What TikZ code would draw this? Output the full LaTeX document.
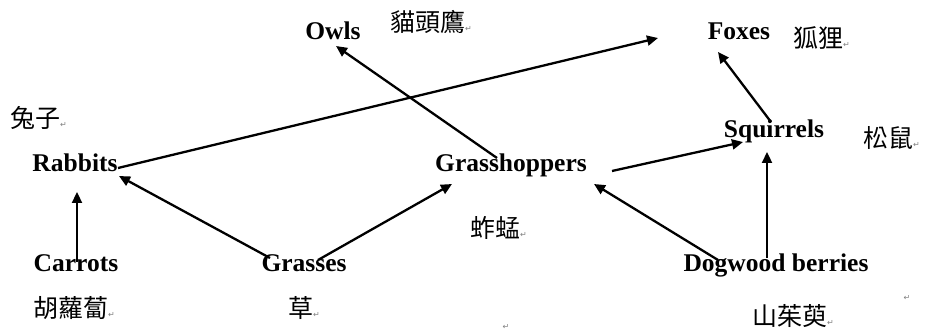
\documentclass[tikz,border=0pt]{standalone}
\usepackage{fontspec}
\setmainfont{Liberation Serif}
\newfontfamily\cjk{Noto Sans CJK TC}
\newfontfamily\markfont{DejaVu Sans}
\usetikzlibrary{arrows.meta}
\newcommand{\pmark}{{\markfont\fontsize{8}{8}\selectfont\textcolor{gray}{↵}}}
\begin{document}
\begin{tikzpicture}[x=1pt,y=-1pt,
  animal/.style={inner sep=0pt,anchor=base,font=\fontsize{25.5}{28}\selectfont\bfseries},
  cname/.style={inner sep=0pt,anchor=west,font=\cjk\fontsize{25}{28}\selectfont},
  pm/.style={inner sep=0pt},
  eat/.style={line width=2.3pt,-{Triangle[length=11pt,width=10pt]}}]
\useasboundingbox[fill=white] (0,0) rectangle (930,334);
% English names
\node[animal] (Owls) at (333,40) {Owls};
\node[animal] (Foxes) at (739,40) {Foxes};
\node[animal] (Rabbits) at (75,172) {Rabbits};
\node[animal] (Grasshoppers) at (511,172) {Grasshoppers};
\node[animal] (Squirrels) at (774,138) {Squirrels};
\node[animal] (Carrots) at (76,272) {Carrots};
\node[animal] (Grasses) at (304,272) {Grasses};
\node[animal] (Dogwood) at (776,271) {Dogwood berries};
% Chinese names
\node[cname] (owlzh) at (390,22) {貓頭鷹\pmark};
\node[cname] (foxzh) at (793,38) {狐狸\pmark};
\node[cname] (rabbitzh) at (10,118) {兔子\pmark};
\node[cname] (squirrelzh) at (863,138) {松鼠\pmark};
\node[cname] (grasshopperzh) at (470,228) {蚱蜢\pmark};
\node[cname] (carrotzh) at (33,308) {胡蘿蔔\pmark};
\node[cname] (grasszh) at (288,308) {草\pmark};
\node[cname] (dogwoodzh) at (752,316) {山茱萸\pmark};
\node[pm] (pm1) at (907,298) {\pmark};
\node[pm] (pm2) at (506,327) {\pmark};
% connectors
\draw[eat] ([shift={(43,-4)}]Rabbits.base) -- ([shift={(-81,-2)}]Foxes.base);
\draw[eat] ([shift={(-14,-14)}]Grasshoppers.base) -- ([shift={(3,6)}]Owls.base);
\draw[eat] ([shift={(101,-1)}]Grasshoppers.base) -- ([shift={(-31,4)}]Squirrels.base);
\draw[eat] ([shift={(-3,-16)}]Squirrels.base) -- ([shift={(-21,12)}]Foxes.base);
\draw[eat] ([shift={(-9,-13)}]Dogwood.base) -- ([shift={(-7,14)}]Squirrels.base);
\draw[eat] ([shift={(-58,-11)}]Dogwood.base) -- ([shift={(83,12)}]Grasshoppers.base);
\draw[eat] ([shift={(1,-10)}]Carrots.base) -- ([shift={(2,20)}]Rabbits.base);
\draw[eat] ([shift={(-34,-14)}]Grasses.base) -- ([shift={(44,4)}]Rabbits.base);
\draw[eat] ([shift={(14,-12)}]Grasses.base) -- ([shift={(-59,12)}]Grasshoppers.base);
\end{tikzpicture}
\end{document}
